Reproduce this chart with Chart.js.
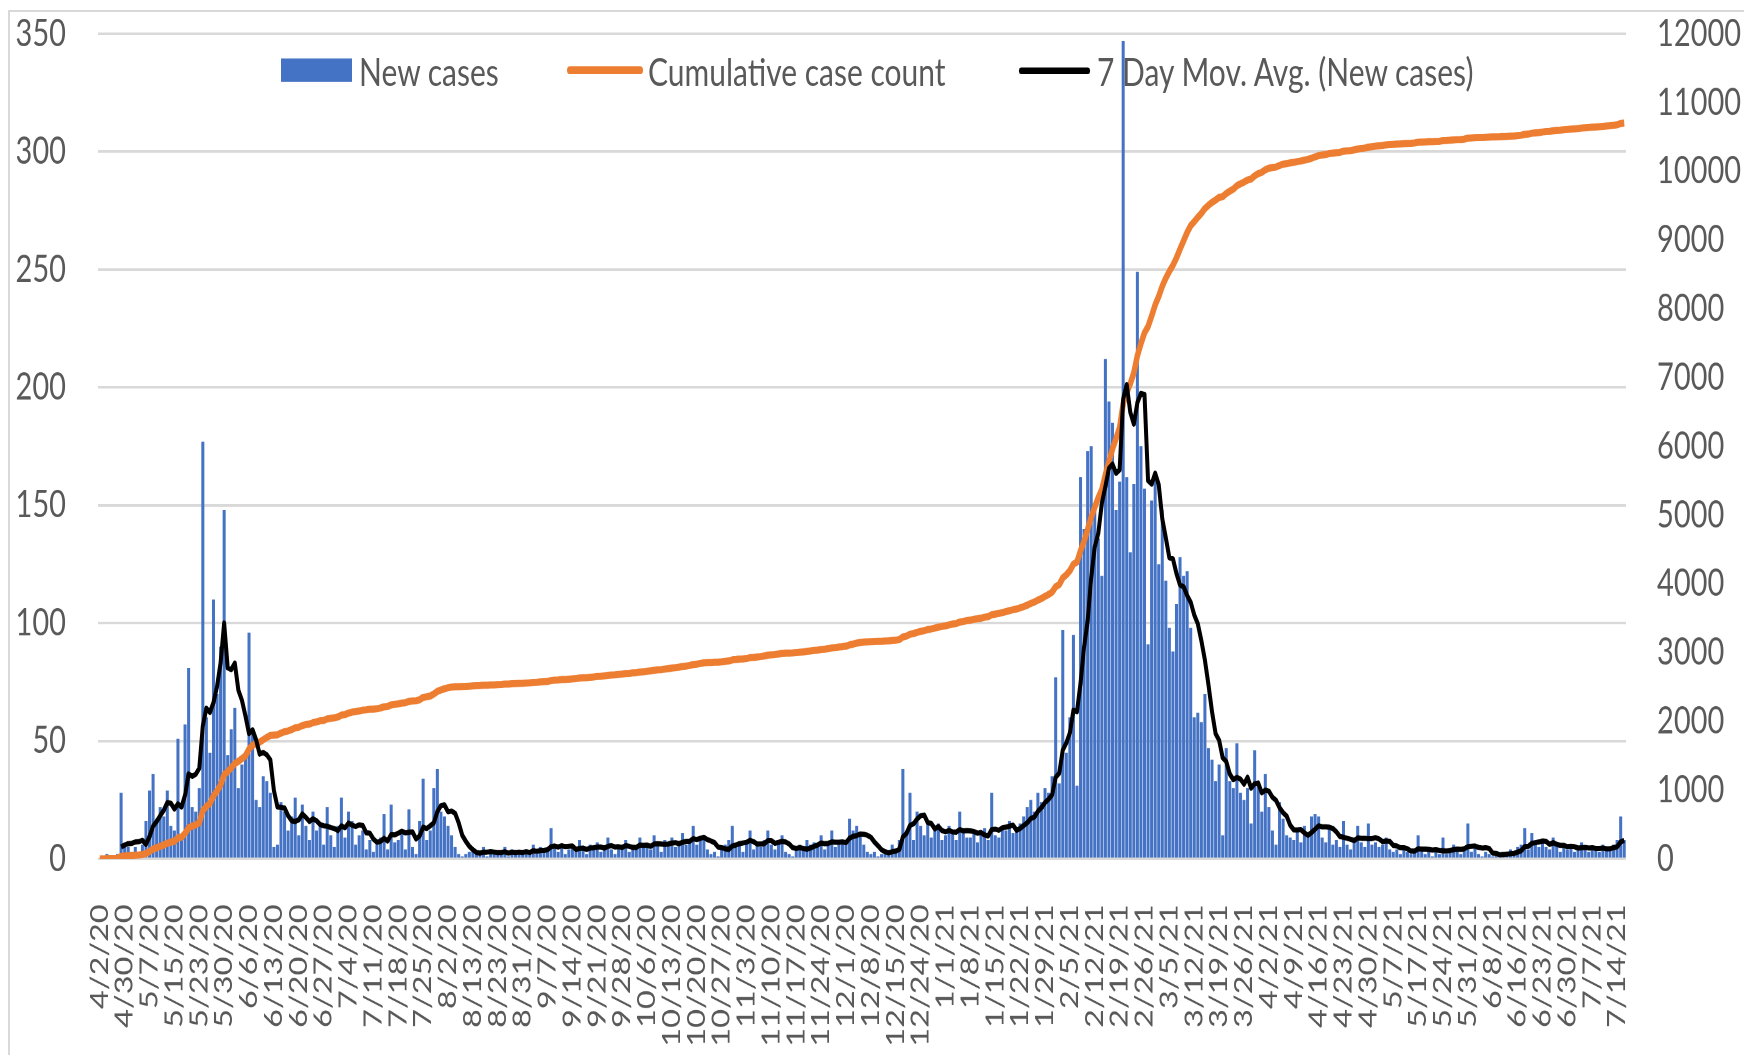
<!DOCTYPE html>
<html>
<head>
<meta charset="utf-8">
<script src="https://cdn.jsdelivr.net/npm/chart.js@4.4.0/dist/chart.umd.min.js"></script>
<style>
   html, body { margin: 0; padding: 0; background: #fff; overflow: hidden; width: 1744px; height: 1055px; }
   #frame { position: absolute; left: 8px; top: 10px; width: 1800px; height: 1100px; border: 2px solid #d9d9d9; }
   /* the source picture is stretched vertically, so draw flat and stretch the stage */
   #stage { position: absolute; left: 0; top: 0; width: 1744px; height: 812px; transform: scaleY(1.29926); transform-origin: 0 0; }
   #myChart { position: absolute; left: 0; top: 0; }
   .lg { position: absolute; font-family: Lato, "Open Sans", sans-serif; font-size: 30px; line-height: 36px; top: 36.3px; color: #595959; white-space: nowrap; }
   .lg-mark { position: absolute; }
</style>
</head>
<body>
<div id="frame"></div>
<div id="stage">
   <canvas id="myChart" width="1744" height="812"></canvas>
   <div id="legend"></div>
</div>
<script>
// one tick label every 7 rows
const tickLabels = [
   '4/2/20', '4/30/20', '5/7/20', '5/15/20', '5/23/20', '5/30/20', '6/6/20', '6/13/20',
   '6/20/20', '6/27/20', '7/4/20', '7/11/20', '7/18/20', '7/25/20', '8/2/20', '8/13/20',
   '8/23/20', '8/31/20', '9/7/20', '9/14/20', '9/21/20', '9/28/20', '10/6/20', '10/13/20',
   '10/20/20', '10/27/20', '11/3/20', '11/10/20', '11/17/20', '11/24/20', '12/1/20', '12/8/20',
   '12/15/20', '12/24/20', '1/1/21', '1/8/21', '1/15/21', '1/22/21', '1/29/21', '2/5/21',
   '2/12/21', '2/19/21', '2/26/21', '3/5/21', '3/12/21', '3/19/21', '3/26/21', '4/2/21',
   '4/9/21', '4/16/21', '4/23/21', '4/30/21', '5/7/21', '5/17/21', '5/24/21', '5/31/21',
   '6/8/21', '6/16/21', '6/23/21', '6/30/21', '7/7/21', '7/14/21'
];

// daily new cases, one line per labelled week
const newCases = [
   0, 1, 2, 1, 1, 2, 28,
   6, 5, 3, 5, 2, 6, 16,
   29, 36, 17, 22, 18, 29, 14,
   12, 51, 8, 57, 81, 22, 20,
   30, 177, 60, 45, 110, 70, 90,
   148, 44, 55, 64, 30, 40, 43,
   96, 55, 25, 22, 35, 33, 28,
   5, 6, 24, 20, 12, 18, 26,
   10, 23, 14, 8, 20, 12, 15,
   6, 22, 10, 5, 14, 26, 9,
   20, 16, 6, 10, 12, 4, 8,
   3, 6, 9, 19, 4, 23, 7,
   8, 12, 4, 21, 5, 2, 16,
   34, 8, 12, 30, 38, 20, 18,
   14, 10, 5, 2, 1, 2, 3,
   4, 2, 3, 5, 1, 3, 2,
   3, 2, 5, 1, 4, 2, 3,
   2, 4, 3, 6, 2, 5, 3,
   4, 13, 5, 3, 6, 2, 4,
   5, 3, 8, 4, 2, 6, 5,
   7, 3, 5, 9, 4, 2, 6,
   5, 8, 3, 6, 4, 9, 5,
   6, 4, 10, 7, 3, 8, 6,
   9, 5, 7, 11, 6, 8, 14,
   6, 9, 10, 4, 2, 3, 1,
   4, 6, 8, 14, 5, 7, 3,
   6, 12, 4, 7, 5, 8, 12,
   6, 4, 7, 10, 3, 2, 1,
   4, 6, 5, 8, 6, 7, 5,
   10, 4, 6, 12, 5, 7, 6,
   8, 17, 12, 14, 10, 6, 3,
   2, 3, 1, 2, 4, 3, 6,
   4, 8, 38, 12, 28, 8, 20,
   14, 10, 16, 9, 12, 15, 8,
   10, 14, 12, 8, 20, 11, 9,
   9, 12, 7, 10, 13, 8, 28,
   10, 9, 14, 12, 16, 11, 13,
   15, 18, 22, 25, 20, 28, 24,
   30, 28, 35, 77, 32, 97, 45,
   60, 95, 31, 162, 140, 173, 175,
   150, 136, 120, 212, 194, 185, 148,
   160, 347, 162, 130, 159, 249, 175,
   157, 91, 152, 162, 125, 148, 118,
   98, 88, 108, 128, 120, 122, 98,
   60, 62, 58, 70, 47, 42, 33,
   40, 10, 47, 33, 30, 49, 28,
   25, 30, 15, 46, 32, 20, 36,
   22, 12, 6, 24, 17, 10, 9,
   8, 12, 7, 14, 10, 18, 19,
   18, 9, 7, 13, 6, 8, 5,
   16, 6, 4, 9, 14, 7, 5,
   15, 6, 7, 5, 6, 9, 4,
   3, 4, 2, 5, 3, 2, 4,
   10, 3, 2, 4, 1, 3, 2,
   9, 2, 4, 6, 3, 2, 4,
   15, 3, 5, 2, 1, 3, 2,
   1, 2, 1, 3, 2, 4, 3,
   5, 6, 13, 4, 11, 6, 5,
   8, 5, 4, 9, 6, 3, 5,
   4, 6, 3, 5, 7, 4, 3,
   5, 4, 3, 6, 5, 4, 6,
   8, 18, 8
];

const seriesNames = ['New cases', 'Cumulative case count', '7 Day Mov. Avg. (New cases)'];
const COLORS = { bars: '#4472C4', cumulative: '#ED7D31', avg: '#000000', text: '#595959', grid: '#d9d9d9' };


const categories = newCases.map((v, i) => (i % 7 === 0 ? tickLabels[i / 7] : ''));

// running total and trailing 7 day mean, as the spreadsheet did
const cumulative = [];
let running = 0;
for (let v of newCases) { running += v; cumulative.push(running); }

const movingAvg = newCases.map((v, i) => {
   if (i < 6) return null;
   let s = 0;
   for (let j = i - 6; j <= i; j++) s += newCases[j];
   return s / 7;
});

const tickFont = (size) => ({ family: 'Lato, "Open Sans", sans-serif', size: size });

// keep the tick padding from pushing the plot top down
const fixWidth = (w) => (s) => { s.width = w; s.paddingTop = 18; s.paddingBottom = 18; };

const config = {
   type: 'bar',
   data: {
      labels: categories,
      datasets: [
         {
            type: 'line', label: seriesNames[2], data: movingAvg, yAxisID: 'y',
            borderColor: COLORS.avg, borderWidth: 4, pointRadius: 0, tension: 0,
            borderJoinStyle: 'round', order: 0,
         },
         {
            type: 'line', label: seriesNames[1], data: cumulative, yAxisID: 'y2',
            borderColor: COLORS.cumulative, borderWidth: 5.5, pointRadius: 0, tension: 0,
            borderJoinStyle: 'round', order: 1,
         },
         {
            type: 'bar', label: seriesNames[0], data: newCases, yAxisID: 'y',
            backgroundColor: COLORS.bars, borderWidth: 0,
            barPercentage: 1, categoryPercentage: 0.85, order: 2,
         },
      ],
   },
   options: {
      responsive: false,
      animation: false,
      devicePixelRatio: 2,
      layout: { padding: { top: 26, left: 0, right: 0, bottom: 0 } },
      plugins: { legend: { display: false }, tooltip: { enabled: false } },
      scales: {
         x: {
            grid: { display: false },
            border: { display: false },
            ticks: {
               autoSkip: false, minRotation: 90, maxRotation: 90, padding: 27,
               color: COLORS.text, font: tickFont(25),
            },
            afterFit: (s) => { s.height = 151; },
         },
         y: {
            position: 'left', min: 0, max: 350,
            ticks: { stepSize: 50, padding: 32, color: COLORS.text, font: tickFont(29) },
            grid: { color: COLORS.grid, lineWidth: 2, drawTicks: false },
            border: { display: false },
            afterFit: fixWidth(98),
         },
         y2: {
            position: 'right', min: 0, max: 12000,
            ticks: {
               stepSize: 1000, padding: 31, color: COLORS.text, font: tickFont(29),
               callback: (v) => String(v),
            },
            grid: { display: false, drawTicks: false },
            border: { display: false },
            afterFit: fixWidth(118),
         },
      },
   },
};

const ctx = document.getElementById('myChart').getContext('2d');
const myChart = new Chart(ctx, config);


// legend sits inside the plot, like the spreadsheet's
const legendItems = [
   { mark: { left: 281, top: 45.4, width: 71, height: 17.7, background: COLORS.bars }, textLeft: 359, name: seriesNames[0] },
   { mark: { left: 567, top: 51.3, width: 76, height: 6, background: COLORS.cumulative, borderRadius: 3 }, textLeft: 648, name: seriesNames[1] },
   { mark: { left: 1019, top: 52.1, width: 71, height: 4.5, background: COLORS.avg, borderRadius: 2 }, textLeft: 1097, name: seriesNames[2] },
];
const legend = document.getElementById('legend');
for (let item of legendItems) {
   const m = document.createElement('div');
   m.className = 'lg-mark';
   m.style.left = item.mark.left + 'px';
   m.style.top = item.mark.top + 'px';
   m.style.width = item.mark.width + 'px';
   m.style.height = item.mark.height + 'px';
   m.style.background = item.mark.background;
   if (item.mark.borderRadius) m.style.borderRadius = item.mark.borderRadius + 'px';
   legend.appendChild(m);

   const t = document.createElement('div');
   t.className = 'lg';
   t.style.left = item.textLeft + 'px';
   t.textContent = item.name;
   legend.appendChild(t);
}
</script>
</body>
</html>
